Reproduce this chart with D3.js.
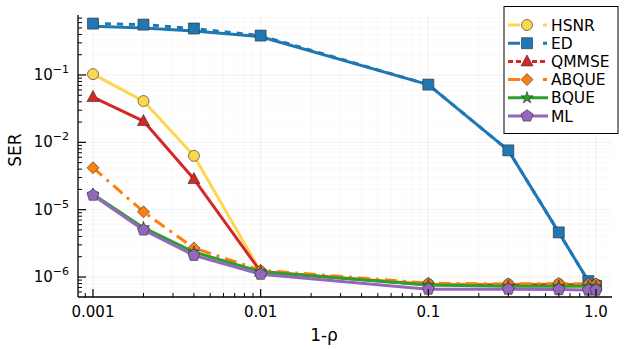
<!DOCTYPE html>
<html><head><meta charset="utf-8">
<script src="https://cdn.jsdelivr.net/npm/d3@7"></script>
<style>body{margin:0;background:#fff}svg{display:block;font-family:"DejaVu Sans",sans-serif}</style>
</head><body><svg id="c" width="627" height="349"></svg>
<script>
const xValues = [0.001, 0.002, 0.004, 0.01, 0.1, 0.3, 0.6, 0.9, 1.0];
const hsnr  = [0.103, 0.041, 0.0063, 1.2e-4, 7.9e-5, 7.8e-5, 7.9e-5, 7.8e-5, 7.8e-5];
const ed    = [0.58, 0.56, 0.49, 0.385, 0.072, 0.0076, 4.6e-4, 8.7e-5, 7.4e-5];
const edRef = [0.53, 0.50, 0.45, 0.37, 0.072, 0.0076, 4.6e-4, 8.7e-5, 7.4e-5];
const qmmse = [0.047, 0.0207, 0.00285, 1.2e-4, 7.7e-5, 7.6e-5, 7.7e-5, 7.6e-5, 7.6e-5];
const abque = [0.0042, 9.3e-4, 2.7e-4, 1.26e-4, 8.1e-5, 7.9e-5, 8.0e-5, 7.9e-5, 7.9e-5];
const bque  = [0.0017, 5.4e-4, 2.35e-4, 1.2e-4, 7.6e-5, 7.3e-5, 7.3e-5, 7.3e-5, 7.3e-5];
const ml    = [0.00164, 5.0e-4, 2.1e-4, 1.1e-4, 6.6e-5, 6.6e-5, 6.5e-5, 6.4e-5, 6.4e-5];
const seriesNames = ["HSNR", "ED", "QMMSE", "ABQUE", "BQUE", "ML"];
const xTickValues = [0.001, 0.01, 0.1, 1.0];
const xTickLabels = ["0.001", "0.01", "0.1", "1.0"];
const yTickValues = [1e-1, 1e-2, 1e-3, 1e-4];
const yTickExponents = ["−1", "−2", "−5", "−6"];

const svg = d3.select("#c");
const L = 78, R = 612, T = 15, B = 297;
const x = d3.scaleLog().domain([8.14e-4, 1.246]).range([L, R]);
const y = d3.scaleLog().domain([5.05e-5, 0.778]).range([B, T]);

// grid
const g = svg.append("g");
const minorX = [], minorY = [];
for (let e = -4; e <= 0; e++) for (let k = 2; k <= 9; k++) {
  const v = k * Math.pow(10, e);
  if (v > x.domain()[0] && v < x.domain()[1]) minorX.push(v);
}
for (let e = -5; e <= -1; e++) for (let k = 2; k <= 9; k++) {
  const v = k * Math.pow(10, e);
  if (v > y.domain()[0] && v < y.domain()[1]) minorY.push(v);
}
g.selectAll(".mgx").data(minorX).join("line").attr("x1", d => x(d)).attr("x2", d => x(d)).attr("y1", T).attr("y2", B).attr("stroke", "#000").attr("stroke-opacity", 0.05).attr("stroke-width", 0.6);
g.selectAll(".mgy").data(minorY).join("line").attr("y1", d => y(d)).attr("y2", d => y(d)).attr("x1", L).attr("x2", R).attr("stroke", "#000").attr("stroke-opacity", 0.05).attr("stroke-width", 0.6);
g.selectAll(".Mgx").data(xTickValues).join("line").attr("x1", d => x(d)).attr("x2", d => x(d)).attr("y1", T).attr("y2", B).attr("stroke", "#000").attr("stroke-opacity", 0.1).attr("stroke-width", 0.6);
g.selectAll(".Mgy").data(yTickValues).join("line").attr("y1", d => y(d)).attr("y2", d => y(d)).attr("x1", L).attr("x2", R).attr("stroke", "#000").attr("stroke-opacity", 0.1).attr("stroke-width", 0.6);

// markers
function pentagon(r) {
  const p = [];
  for (let i = 0; i < 5; i++) { const a = -Math.PI / 2 + i * 2 * Math.PI / 5; p.push([r * Math.cos(a), r * Math.sin(a)]); }
  return "M" + p.map(q => q.join(",")).join("L") + "Z";
}
const shapes = {
  circle: () => d3.symbol(d3.symbolCircle, 95)(),
  square: () => "M-5.5,-5.5H5.5V5.5H-5.5Z",
  triangle: () => "M0,-6.5L6,4.5L-6,4.5Z",
  diamond: () => "M0,-6L6,0L0,6L-6,0Z",
  star: () => d3.symbol(d3.symbolStar, 45)(),
  pentagon: () => pentagon(6.3)
};
const series = [
  {name: seriesNames[0], vals: hsnr, color: "#fdd64e", shape: "circle", dash: null},
  {name: seriesNames[1], vals: ed, ref: edRef, color: "#1f77b4", shape: "square", dash: "6,6"},
  {name: seriesNames[2], vals: qmmse, color: "#d62728", shape: "triangle", dash: null},
  {name: seriesNames[3], vals: abque, color: "#ff7f0e", shape: "diamond", dash: "12,6,3,6"},
  {name: seriesNames[4], vals: bque, color: "#2ca02c", shape: "star", dash: null},
  {name: seriesNames[5], vals: ml, color: "#9467bd", shape: "pentagon", dash: null}
];
const line = d3.line().x(d => x(d[0])).y(d => y(d[1]));
const plot = svg.append("g");
series.forEach(s => {
  if (s.ref) {
    plot.append("path").attr("d", line(xValues.map((v, i) => [v, s.ref[i]]))).attr("fill", "none")
      .attr("stroke", s.color).attr("stroke-width", 3).attr("stroke-linejoin", "round");
  }
  const p = plot.append("path").attr("d", line(xValues.map((v, i) => [v, s.vals[i]]))).attr("fill", "none")
    .attr("stroke", s.color).attr("stroke-width", 3).attr("stroke-linejoin", "round");
  if (s.dash) p.attr("stroke-dasharray", s.dash);
  plot.selectAll(null).data(xValues.map((v, i) => [v, s.vals[i]])).join("path")
    .attr("d", shapes[s.shape]()).attr("transform", d => `translate(${x(d[0])},${y(d[1])})`)
    .attr("fill", s.color).attr("stroke", "#333").attr("stroke-opacity", 0.8).attr("stroke-width", 0.8);
});

// axes
const ax = svg.append("g");
ax.append("line").attr("x1", L).attr("x2", R).attr("y1", B).attr("y2", B).attr("stroke", "#000").attr("stroke-width", 1.3);
ax.append("line").attr("x1", L).attr("x2", L).attr("y1", T).attr("y2", B).attr("stroke", "#000").attr("stroke-width", 1.3);
ax.selectAll(".tx").data(xTickValues).join("line").attr("x1", d => x(d)).attr("x2", d => x(d)).attr("y1", B).attr("y2", B - 8).attr("stroke", "#000").attr("stroke-width", 1.2);
ax.selectAll(".mtx").data(minorX).join("line").attr("x1", d => x(d)).attr("x2", d => x(d)).attr("y1", B).attr("y2", B - 4).attr("stroke", "#000").attr("stroke-width", 1);
ax.selectAll(".ty").data(yTickValues).join("line").attr("y1", d => y(d)).attr("y2", d => y(d)).attr("x1", L).attr("x2", L + 8).attr("stroke", "#000").attr("stroke-width", 1.2);
ax.selectAll(".mty").data(minorY).join("line").attr("y1", d => y(d)).attr("y2", d => y(d)).attr("x1", L).attr("x2", L + 4).attr("stroke", "#000").attr("stroke-width", 1);
ax.selectAll(".lx").data(xTickValues).join("text").attr("x", d => x(d)).attr("y", 317).attr("text-anchor", "middle")
  .attr("font-size", 15).attr("fill", "#000").text((d, i) => xTickLabels[i]);
const yl = ax.selectAll(".ly").data(yTickValues).join("text").attr("x", 69).attr("y", d => y(d) + 5).attr("text-anchor", "end")
  .attr("font-size", 15).attr("fill", "#000");
yl.append("tspan").text("10");
yl.append("tspan").attr("dy", -7).attr("font-size", 11).text((d, i) => yTickExponents[i]);
svg.append("text").attr("x", 324).attr("y", 341).attr("text-anchor", "middle").attr("font-size", 17).text("1-ρ");
svg.append("text").attr("transform", "translate(21,150) rotate(-90)").attr("text-anchor", "middle").attr("font-size", 17).text("SER");

// legend
const lg = svg.append("g");
lg.append("rect").attr("x", 504).attr("y", 6.5).attr("width", 114).attr("height", 127).attr("fill", "#fff").attr("stroke", "#000").attr("stroke-width", 1);
const legendDash = {HSNR: "12,23,4,10", ED: "12,23,4,10", QMMSE: "5,3", ABQUE: "12,23,4,10", BQUE: null, ML: null};
series.forEach((s, i) => {
  const cy = 25 + i * 18.2;
  const ln = lg.append("line").attr("x1", 508).attr("x2", 548).attr("y1", cy).attr("y2", cy).attr("stroke", s.color).attr("stroke-width", 3);
  if (legendDash[s.name]) ln.attr("stroke-dasharray", legendDash[s.name]);
  lg.append("path").attr("d", shapes[s.shape]()).attr("transform", `translate(527,${cy})`)
    .attr("fill", s.color).attr("stroke", "#333").attr("stroke-opacity", 0.8).attr("stroke-width", 0.8);
  lg.append("text").attr("x", 551).attr("y", cy + 5.5).attr("font-size", 15.5).attr("fill", "#000").text(s.name);
});
</script></body></html>
